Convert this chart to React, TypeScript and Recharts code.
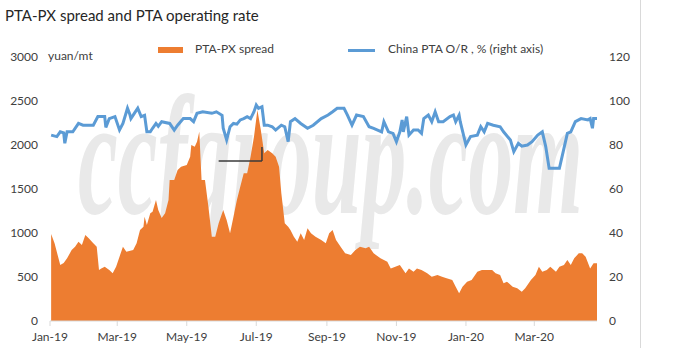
import React from 'react';
import { ComposedChart, Area, Line, XAxis, YAxis, ReferenceLine } from 'recharts';

const spreadDates = [
  '2019-01-02','2019-01-05','2019-01-10','2019-01-13','2019-01-16','2019-01-20','2019-01-23','2019-01-26','2019-01-29',
  '2019-02-01','2019-02-04','2019-02-08','2019-02-11','2019-02-13','2019-02-15','2019-02-18','2019-02-22','2019-02-25','2019-02-28',
  '2019-03-03','2019-03-06','2019-03-09','2019-03-15','2019-03-18','2019-03-21','2019-03-24','2019-03-25','2019-03-27','2019-03-30',
  '2019-04-01','2019-04-04','2019-04-06','2019-04-09','2019-04-12','2019-04-15','2019-04-16','2019-04-20','2019-04-23','2019-04-26',
  '2019-05-01','2019-05-04','2019-05-05','2019-05-08','2019-05-10','2019-05-12','2019-05-14','2019-05-17','2019-05-20','2019-05-23','2019-05-26','2019-05-29',
  '2019-06-02','2019-06-05','2019-06-08','2019-06-11','2019-06-14','2019-06-17','2019-06-20','2019-06-23','2019-06-26','2019-06-29',
  '2019-07-02','2019-07-05','2019-07-08','2019-07-11','2019-07-15','2019-07-18','2019-07-21','2019-07-23','2019-07-26','2019-07-29','2019-07-31',
  '2019-08-03','2019-08-06','2019-08-09','2019-08-12','2019-08-15','2019-08-18','2019-08-22','2019-08-27','2019-08-31',
  '2019-09-03','2019-09-06','2019-09-09','2019-09-13','2019-09-17','2019-09-22','2019-09-26','2019-09-30',
  '2019-10-05','2019-10-08','2019-10-12','2019-10-18','2019-10-24','2019-10-27','2019-10-31',
  '2019-11-04','2019-11-09','2019-11-12','2019-11-16','2019-11-19','2019-11-23','2019-11-28',
  '2019-12-02','2019-12-07','2019-12-11','2019-12-15','2019-12-20','2019-12-23','2019-12-26','2019-12-29',
  '2020-01-02','2020-01-06','2020-01-11','2020-01-15','2020-01-20','2020-01-24','2020-01-27','2020-01-31',
  '2020-02-03','2020-02-06','2020-02-11','2020-02-15','2020-02-19','2020-02-22','2020-02-27',
  '2020-03-02','2020-03-05','2020-03-08','2020-03-12','2020-03-15','2020-03-20','2020-03-23','2020-03-27','2020-03-30',
  '2020-04-02','2020-04-05','2020-04-09','2020-04-12','2020-04-15','2020-04-19','2020-04-22','2020-04-25',
];
const spreadValues = [
  990,883,636,659,712,807,845,901,864,
  977,939,883,845,580,598,617,580,542,617,
  731,845,788,807,883,1034,1072,1185,1091,1224,
  1242,1375,1261,1170,1224,1375,1602,1602,1716,1753,
  1773,1867,2000,1981,2038,2150,1602,1602,1299,958,958,1110,
  1261,1148,997,1185,1375,1527,1678,1678,1867,2095,
  2398,2170,1905,1943,1905,1867,1753,1451,1110,1072,1034,
  958,901,997,920,1053,997,958,920,883,
  997,1034,920,845,769,750,807,845,
  826,845,769,712,674,598,617,
  636,542,598,561,598,580,542,
  504,523,504,485,466,390,315,390,
  447,466,561,580,580,580,542,523,
  428,447,390,371,333,371,466,
  523,617,561,580,617,561,617,636,693,
  636,712,769,769,731,598,655,655,
];

const rateDates = [
  '2019-01-02','2019-01-07','2019-01-10','2019-01-13','2019-01-14','2019-01-16','2019-01-21','2019-01-26','2019-01-30',
  '2019-02-08','2019-02-12','2019-02-18','2019-02-19','2019-02-22','2019-02-27',
  '2019-03-03','2019-03-06','2019-03-10','2019-03-12','2019-03-13','2019-03-16','2019-03-19','2019-03-22','2019-03-25','2019-03-27','2019-03-30',
  '2019-04-01','2019-04-04','2019-04-06','2019-04-09','2019-04-16','2019-04-20','2019-04-23','2019-04-28',
  '2019-05-04','2019-05-07','2019-05-10','2019-05-15','2019-05-23','2019-05-27',
  '2019-06-01','2019-06-02','2019-06-05','2019-06-08','2019-06-11','2019-06-14','2019-06-17','2019-06-20','2019-06-23','2019-06-26','2019-06-29',
  '2019-07-01','2019-07-03','2019-07-06','2019-07-08','2019-07-11','2019-07-15','2019-07-18','2019-07-23','2019-07-26','2019-07-29','2019-07-31',
  '2019-08-04','2019-08-09','2019-08-15','2019-08-20','2019-08-27',
  '2019-09-02','2019-09-06','2019-09-10','2019-09-16','2019-09-19','2019-09-23','2019-09-27',
  '2019-10-03','2019-10-08','2019-10-12','2019-10-19','2019-10-21','2019-10-25','2019-10-29',
  '2019-11-01','2019-11-04','2019-11-06','2019-11-07','2019-11-10','2019-11-12','2019-11-16','2019-11-20','2019-11-23','2019-11-25','2019-11-29',
  '2019-12-02','2019-12-05','2019-12-08','2019-12-12','2019-12-18','2019-12-21','2019-12-23','2019-12-26','2019-12-27',
  '2020-01-01','2020-01-05','2020-01-11','2020-01-14','2020-01-17','2020-01-20','2020-01-25','2020-01-31',
  '2020-02-03','2020-02-09','2020-02-12','2020-02-16','2020-02-19','2020-02-24','2020-02-28',
  '2020-03-04','2020-03-08','2020-03-11','2020-03-14','2020-03-23','2020-03-27','2020-03-30',
  '2020-04-02','2020-04-06','2020-04-11','2020-04-17','2020-04-19','2020-04-21','2020-04-22','2020-04-25',
];
const rateValues = [
  84.5,83.8,86,85.5,80.8,86,86,89.8,89,
  89,92.9,92.9,88,92,92.9,
  86.8,89.8,96.7,94,92,94.4,96.7,92.9,93.5,86,86,
  87.6,89.8,88.5,90.6,89.8,86.8,89,92,
  92,90.6,94.4,95.1,94.4,95.1,
  93.5,87.6,82.3,88.3,89.8,89.5,91.4,92,92.9,92,95.1,
  98.2,96.7,97.4,89,89,88.3,86.8,89,88.3,81.5,90.6,
  92,89.8,87.6,89,92,
  93.6,95.1,96.7,96.7,93.6,89,93.6,
  92.9,88.3,87.6,86,90.6,86,85.3,
  81.5,86,91.4,86,92.9,84.5,86.8,86.8,85.3,92,93.6,
  90.6,95.1,90.6,90.6,92.9,93.6,90.6,93.6,90.6,
  80,83.8,84.5,88.3,86,89.8,89,88.3,
  86,82.3,77,80.8,79.5,80,81.5,
  84.5,86,79.3,69.4,69.4,78.5,85.3,
  86,90.6,92,91.4,92,87.6,92,92,
];

const xTickDates = ['2019-01-01','2019-03-01','2019-05-01','2019-07-01','2019-09-01','2019-11-01','2020-01-01','2020-03-01'];
const xTickLabels = ['Jan-19','Mar-19','May-19','Jul-19','Sep-19','Nov-19','Jan-20','Mar-20'];
const leftTicks = [0, 500, 1000, 1500, 2000, 2500, 3000];
const rightTicks = [0, 20, 40, 60, 80, 100, 120];

// stray callout mark seen in the source picture
const calloutDates = ['2019-05-29', '2019-07-06'];
const calloutValues = [1818, 1977];

const ts = (d: string) => Date.parse(d + 'T00:00:00Z');

const rows = (() => {
  const m = new Map<number, any>();
  spreadDates.forEach((d, i) => {
    const t = ts(d);
    m.set(t, { ...(m.get(t) || { t }), spread: spreadValues[i] });
  });
  rateDates.forEach((d, i) => {
    const t = ts(d);
    m.set(t, { ...(m.get(t) || { t }), rate: rateValues[i] });
  });
  return Array.from(m.values()).sort((a, b) => a.t - b.t);
})();

const xTicks = xTickDates.map(ts);
const xDomain = [ts('2019-01-01'), ts(spreadDates[spreadDates.length - 1])];

const FONT = 'Lato, "Open Sans", "Liberation Sans", sans-serif';
const ORANGE = '#ED7D31';
const BLUE = '#5B9BD5';
const TEXT = '#404040';

export default function App() {
  const tickStyle = { fontSize: 12, fill: TEXT, fontFamily: FONT };
  return (
    <div style={{ position: 'absolute', left: 0, top: 0, width: 680, height: 363, background: '#fff', overflow: 'hidden' }}>
      <svg width={680} height={363} style={{ position: 'absolute', left: 0, top: 0, zIndex: 0 }}>
        <g transform="translate(78,213) scale(0.5,1)">
          <text
            x={0}
            y={0}
            textLength={1010}
            lengthAdjust="spacingAndGlyphs"
            style={{ fontFamily: '"Liberation Serif", "DejaVu Serif", serif', fontStyle: 'italic', fontWeight: 700, fontSize: 170, fill: '#e9e9e9' }}
          >
            ccfgroup.com
          </text>
        </g>
      </svg>
      <div style={{ position: 'absolute', left: 0, top: 0, zIndex: 1 }}>
        <ComposedChart width={680} height={363} data={rows} margin={{ top: 57, right: 0, bottom: 0, left: 0 }}>
          <XAxis
            dataKey="t"
            type="number"
            scale="time"
            domain={xDomain}
            ticks={xTicks}
            tickFormatter={(v: number) => xTickLabels[xTicks.indexOf(v)] ?? ''}
            height={42}
            tickSize={5}
            tickMargin={6}
            stroke="#d9d9d9"
            tick={tickStyle}
            interval={0}
            allowDataOverflow
          />
          <YAxis
            yAxisId="left"
            orientation="left"
            domain={[0, 3000]}
            ticks={leftTicks}
            width={50}
            axisLine={false}
            tickLine={false}
            tickSize={0}
            tickMargin={12}
            tick={tickStyle}
            interval={0}
          />
          <YAxis
            yAxisId="right"
            orientation="right"
            domain={[0, 120]}
            ticks={rightTicks}
            width={83}
            axisLine={false}
            tickLine={false}
            tickSize={0}
            tickMargin={12}
            tick={{ ...tickStyle, textAnchor: 'start' }}
            interval={0}
          />
          <Area
            yAxisId="left"
            dataKey="spread"
            type="linear"
            fill={ORANGE}
            fillOpacity={1}
            stroke="none"
            connectNulls
            isAnimationActive={false}
            dot={false}
            activeDot={false}
          />
          <Line
            yAxisId="right"
            dataKey="rate"
            type="linear"
            stroke={BLUE}
            strokeWidth={3}
            connectNulls
            dot={false}
            activeDot={false}
            isAnimationActive={false}
          />
          <ReferenceLine
            yAxisId="left"
            segment={[{ x: ts(calloutDates[0]), y: calloutValues[0] }, { x: ts(calloutDates[1]), y: calloutValues[0] }]}
            stroke="#3a3a3a"
            strokeWidth={1.5}
            ifOverflow="visible"
          />
          <ReferenceLine
            yAxisId="left"
            segment={[{ x: ts(calloutDates[1]), y: calloutValues[0] }, { x: ts(calloutDates[1]), y: calloutValues[1] }]}
            stroke="#3a3a3a"
            strokeWidth={1.5}
            ifOverflow="visible"
          />
        </ComposedChart>
      </div>
      <svg width={680} height={363} style={{ position: 'absolute', left: 0, top: 0, zIndex: 2, pointerEvents: 'none' }}>
        <text x={5} y={21} style={{ fontFamily: FONT, fontSize: 15, fill: '#262626' }}>
          PTA-PX spread and PTA operating rate
        </text>
        <text x={48} y={60} style={{ fontFamily: FONT, fontSize: 12, fill: TEXT }}>
          yuan/mt
        </text>
        <rect x={158} y={47} width={25} height={6} fill={ORANGE} />
        <text x={195} y={53} style={{ fontFamily: FONT, fontSize: 12, fill: TEXT }}>
          PTA-PX spread
        </text>
        <line x1={348} x2={375} y1={50.5} y2={50.5} stroke={BLUE} strokeWidth={3} />
        <text x={388} y={53} style={{ fontFamily: FONT, fontSize: 12, fill: TEXT }}>
          China PTA O/R , % (right axis)
        </text>
        <line x1={640.5} x2={640.5} y1={0} y2={348} stroke="#d9d9d9" strokeWidth={1} />
      </svg>
    </div>
  );
}
